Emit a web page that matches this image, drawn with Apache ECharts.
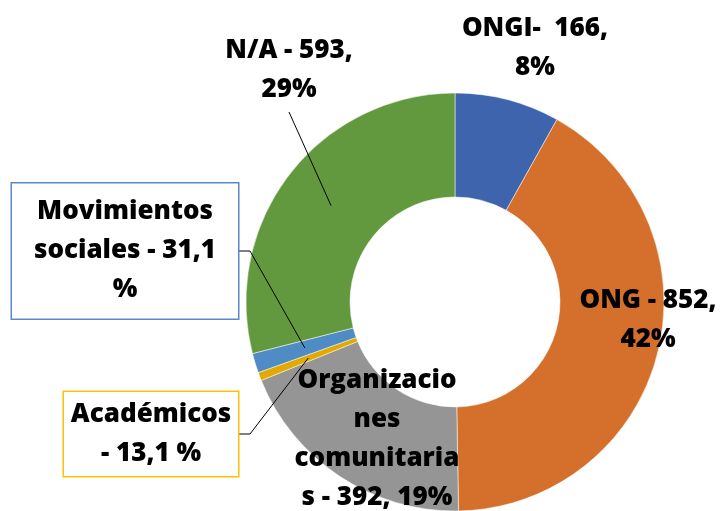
<!DOCTYPE html>
<html>
<head>
<meta charset="utf-8">
<script src="https://cdn.jsdelivr.net/npm/echarts@6/dist/echarts.min.js"></script>
<style>
  html, body { margin: 0; padding: 0; background: #fff; }
  #chart { width: 723px; height: 511px; }
</style>
</head>
<body>
<div id="chart"></div>
<script>
// categories and values, clockwise from the top
const categories = ['ONGI', 'ONG', 'Organizaciones comunitarias', 'Académicos', 'Movimientos sociales', 'N/A'];
const values = [166, 852, 392, 13, 31, 593];
const colors = ['#3E64AD', '#D4702C', '#959595', '#E2AA00', '#4F8BC4', '#62993F'];
// label texts as they are written on the picture
const labelTexts = [
    'ONGI-  166,\n8%',
    'ONG - 852,\n42%',
    'Organizacio\nnes\ncomunitaria\ns - 392, 19%',
    'Académicos\n- 13,1 %',
    'Movimientos\nsociales - 31,1\n%',
    'N/A - 593,\n29%'
];

const center = [455, 302];
const radius = [105, 209];
const total = values.reduce((a, b) => a + b, 0);

// where each label sits (center of its text) and an optional elbow for the leader line
const labelPlaces = [
    { x: 535, y: 48 },
    { x: 648, y: 320 },
    { x: 377, y: 439 },
    { x: 151, y: 434, elbow: 250, edge: 239 },
    { x: 125, y: 251, elbow: 250, edge: 239 },
    { x: 289, y: 70, lineEnd: [289, 112] }
];

// point in the middle of the ring at the middle angle of slice i
function midPoint(i) {
    let cum = 0;
    for (let k = 0; k < i; k++) cum += values[k];
    const frac = (cum + values[i] / 2) / total;
    const a = (90 - frac * 360) * Math.PI / 180;
    const r = (radius[0] + radius[1]) / 2;
    return [center[0] + r * Math.cos(a), center[1] - r * Math.sin(a)];
}

const baseLabel = {
    color: '#000',
    fontFamily: 'Open Sans',
    fontWeight: 800,
    fontSize: 26,
    lineHeight: 39,
    align: 'center'
};

const slices = categories.map((name, i) => ({
    name: name,
    value: values[i],
    itemStyle: { color: colors[i] }
}));

// same slices again, invisible, only to carry the labels and leader lines above the ring
const labelItems = categories.map((name, i) => {
    const item = {
        name: name,
        value: values[i],
        label: Object.assign({}, baseLabel, { formatter: labelTexts[i] }),
        labelLine: { show: false }
    };
    if (i === 3) {
        Object.assign(item.label, {
            width: 174, height: 84,
            borderColor: '#FFC000', borderWidth: 1.5, backgroundColor: '#fff'
        });
        item.labelLine = { show: true };
    }
    if (i === 4) {
        Object.assign(item.label, {
            width: 226, height: 135,
            borderColor: '#5B86D2', borderWidth: 1.5, backgroundColor: '#fff'
        });
        item.labelLine = { show: true };
    }
    if (i === 5) {
        item.labelLine = { show: true };
    }
    return item;
});

const myChart = echarts.init(document.getElementById('chart'));
myChart.setOption({
    animation: false,
    series: [{
        type: 'pie',
        z: 2,
        center: center,
        radius: radius,
        startAngle: 90,
        clockwise: true,
        itemStyle: { borderColor: '#fff', borderWidth: 0.5 },
        label: { show: false },
        labelLine: { show: false },
        emphasis: { disabled: true },
        silent: true,
        data: slices
    }, {
        type: 'pie',
        z: 5,
        center: center,
        radius: radius,
        startAngle: 90,
        clockwise: true,
        avoidLabelOverlap: false,
        silent: true,
        itemStyle: { color: 'rgba(0,0,0,0)', borderWidth: 0 },
        label: { show: true, position: 'outside' },
        labelLine: { show: true, lineStyle: { color: '#000', width: 1 } },
        emphasis: { disabled: true },
        data: labelItems,
        labelLayout: function (params) {
            const i = params.dataIndex;
            const p = labelPlaces[i];
            const res = { x: p.x, y: p.y, align: 'center', verticalAlign: 'middle' };
            const start = midPoint(i);
            if (p.elbow) {
                res.labelLinePoints = [start, [p.elbow, p.y], [p.edge, p.y]];
            } else if (p.lineEnd) {
                res.labelLinePoints = [start, [(start[0] + p.lineEnd[0]) / 2, (start[1] + p.lineEnd[1]) / 2], p.lineEnd];
            }
            return res;
        }
    }]
});
</script>
</body>
</html>
